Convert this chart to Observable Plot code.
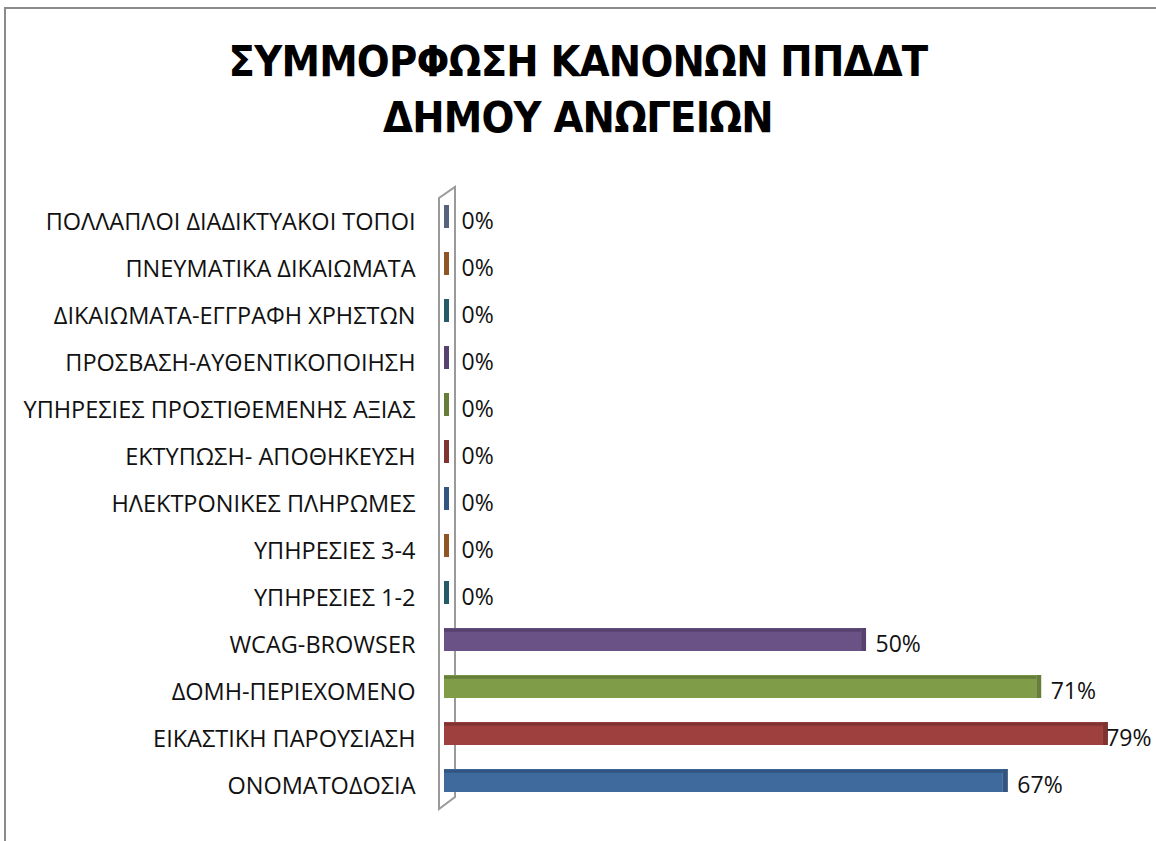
<!DOCTYPE html>
<html>
<head>
<meta charset="utf-8">
<script src="https://cdn.jsdelivr.net/npm/d3@7"></script>
<script src="https://cdn.jsdelivr.net/npm/@observablehq/plot@0.6"></script>
<style>
  html, body { margin: 0; padding: 0; background: #fff; }
  #frame { position: absolute; left: 4px; top: 7px; width: 1152px; height: 834px;
           border-left: 2px solid #8a8a8a; border-top: 2px solid #8a8a8a; }
  #title { position: absolute; left: 0; top: 0; width: 1156px; height: 180px; text-align: center;
           font-family: "DejaVu Sans Condensed", "DejaVu Sans"; font-stretch: condensed; font-weight: bold;
           font-size: 43px; letter-spacing: -0.8px; line-height: 56px; color: #000; padding-top: 33px; box-sizing: border-box; }
  #chart { position: absolute; left: 0; top: 180px; }
</style>
</head>
<body>
<div id="frame"></div>
<div id="title">ΣΥΜΜΟΡΦΩΣΗ ΚΑΝΟΝΩΝ ΠΠΔΔΤ<br>ΔΗΜΟΥ ΑΝΩΓΕΙΩΝ</div>
<div id="chart"></div>
<script>
const categories = [
  "ΠΟΛΛΑΠΛΟΙ ΔΙΑΔΙΚΤΥΑΚΟΙ ΤΟΠΟΙ",
  "ΠΝΕΥΜΑΤΙΚΑ ΔΙΚΑΙΩΜΑΤΑ",
  "ΔΙΚΑΙΩΜΑΤΑ-ΕΓΓΡΑΦΗ ΧΡΗΣΤΩΝ",
  "ΠΡΟΣΒΑΣΗ-ΑΥΘΕΝΤΙΚΟΠΟΙΗΣΗ",
  "ΥΠΗΡΕΣΙΕΣ ΠΡΟΣΤΙΘΕΜΕΝΗΣ ΑΞΙΑΣ",
  "ΕΚΤΥΠΩΣΗ- ΑΠΟΘΗΚΕΥΣΗ",
  "ΗΛΕΚΤΡΟΝΙΚΕΣ ΠΛΗΡΩΜΕΣ",
  "ΥΠΗΡΕΣΙΕΣ 3-4",
  "ΥΠΗΡΕΣΙΕΣ 1-2",
  "WCAG-BROWSER",
  "ΔΟΜΗ-ΠΕΡΙΕΧΟΜΕΝΟ",
  "ΕΙΚΑΣΤΙΚΗ ΠΑΡΟΥΣΙΑΣΗ",
  "ΟΝΟΜΑΤΟΔΟΣΙΑ"
];
const values = [0, 0, 0, 0, 0, 0, 0, 0, 0, 50, 71, 79, 67];
const colors = ["#6d7b98", "#b2692e", "#2f6f80", "#6a5287", "#7f9c48", "#9e413e",
                "#3f6a9e", "#b2692e", "#2f6f80", "#6a5287", "#7f9c48", "#9e413e", "#3f6a9e"];

const data = categories.map((c, i) => ({cat: c, v: values[i], color: colors[i],
  dark: d3.color(colors[i]).darker(0.6).formatHex()}));

const xMax = 85;

// 3D wall drawn from the scales
function wall(index, scales) {
  const x0 = scales.x(0);
  const yTop = scales.y(categories[0]);
  const yBot = scales.y(categories[categories.length - 1]) + scales.y.bandwidth();
  const fx = x0 - 5, bx = x0 + 11;
  const g = d3.create("svg:g").attr("fill", "none").attr("stroke", "#9a9a9a").attr("stroke-width", 2);
  g.append("path").attr("d",
    `M${fx},${yTop - 7}L${fx},${yBot + 17}L${bx},${yBot + 5}L${bx},${yTop - 18}Z`);
  return g.node();
}

const chart = Plot.plot({
  width: 1156,
  height: 650,
  marginLeft: 444,
  marginRight: 3,
  marginTop: 12.45,
  marginBottom: 24.95,
  style: {fontFamily: "Open Sans, sans-serif", background: "transparent", overflow: "visible"},
  x: {domain: [0, xMax], axis: null},
  y: {domain: categories, paddingInner: 0.52, paddingOuter: 0.26, axis: null},
  marks: [
    wall,
    // bars
    Plot.barX(data, {x: "v", y: "cat", fill: "color"}),
    Plot.ruleY(data.filter(d => d.v > 0), {y: "cat", x1: 0, x2: "v", dy: -9.8, strokeWidth: 3, stroke: "dark"}),
    Plot.tickX(data, {x: "v", y: "cat", dx: 2, stroke: "dark", strokeWidth: 5}),
    // y labels
    Plot.text(data, {x: 0, y: "cat", text: "cat", textAnchor: "end", dx: -29, dy: 5, fontSize: 23.5, fill: "#111"}),
    // value labels
    Plot.text(data.filter(d => d.v === 0), {x: "v", y: "cat", text: d => d.v + "%", textAnchor: "start",
      dx: 17, dy: 5, fontSize: 23, fill: "#111"}),
    Plot.text(data.filter(d => d.v > 0 && d.v <= 75), {x: "v", y: "cat", text: d => d.v + "%", textAnchor: "start",
      dx: 14, dy: 5, fontSize: 23, fill: "#111"}),
    Plot.text(data.filter(d => d.v > 75), {x: () => xMax, y: "cat", text: d => d.v + "%", textAnchor: "end",
      dx: -2, dy: 5, fontSize: 23, fill: "#111"})
  ]
});
document.getElementById("chart").appendChild(chart);
</script>
</body>
</html>
